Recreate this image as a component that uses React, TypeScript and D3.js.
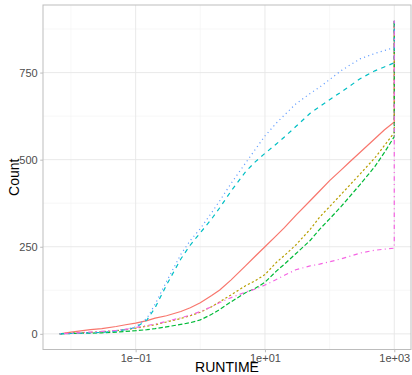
import React, { useEffect, useRef } from 'react';
import * as d3 from 'd3';

// runtime grid (seconds) shared by every series
const runtimes = [
  0.0067, 0.01, 0.02, 0.03, 0.05, 0.07, 0.1, 0.15, 0.2, 0.3, 0.5, 0.7, 1, 1.5, 2, 3, 5, 7, 10,
  15, 20, 30, 50, 70, 100, 150, 200, 300, 500, 700, 1000,
];

// cumulative solved counts at each runtime
const countsA = [
  0, 5, 12, 15, 21, 26, 31, 38, 45, 52, 64, 75, 89, 110, 126, 155, 195, 222, 250, 282, 305, 340,
  382, 410, 440, 470, 492, 522, 560, 585, 608,
];
const countsB = [
  0, 2, 4, 6, 9, 12, 16, 22, 26, 34, 44, 52, 62, 78, 92, 112, 138, 152, 170, 205, 225, 255, 300,
  335, 365, 400, 425, 460, 505, 540, 578,
];
const countsC = [
  0, 1, 2, 3, 5, 7, 9, 12, 15, 20, 27, 32, 40, 56, 70, 92, 118, 130, 148, 180, 200, 230, 268,
  300, 330, 365, 392, 430, 480, 520, 566,
];
const countsD = [
  0, 1, 3, 4, 8, 12, 18, 40, 75, 140, 215, 255, 290, 330, 362, 410, 465, 493, 518, 545, 565, 595,
  633, 652, 672, 694, 710, 733, 755, 766, 778,
];
const countsE = [
  0, 1, 3, 5, 9, 13, 20, 45, 85, 150, 228, 268, 302, 348, 382, 432, 490, 528, 568, 605, 628, 660,
  690, 708, 730, 755, 770, 790, 805, 813, 822,
];
const countsF = [
  0, 2, 5, 7, 10, 13, 18, 24, 28, 36, 46, 54, 64, 78, 90, 104, 120, 128, 140, 156, 168, 184, 195,
  200, 207, 215, 222, 232, 240, 243, 246,
];

// every instance counts at the timeout
const total = 899;

const seriesNames = ['A', 'B', 'C', 'D', 'E', 'F'];
const seriesCounts = [countsA, countsB, countsC, countsD, countsE, countsF];
const colors = ['#F8766D', '#B79F00', '#00BA38', '#00BFC4', '#619CFF', '#F564E3'];
const dashes = ['', '2.2,2.2', '4.4,2.2', '4.4,4.4', '1.1,3.3', '1.1,3.3,4.4,3.3'];

const yTicks = [0, 250, 500, 750];
const yMinor = [125, 375, 625, 875];
const xTicks = [1e-1, 1e1, 1e3];
const xMinor = [1e-2, 1e0, 1e2];

export default function App() {
  const svgRef = useRef<SVGSVGElement>(null);

  useEffect(() => {
    const width = 412;
    const height = 375;
    const margin = { top: 5, right: 1, bottom: 25.5, left: 43 };
    const pw = width - margin.left - margin.right;
    const ph = height - margin.top - margin.bottom;

    const svg = d3.select(svgRef.current).attr('width', width).attr('height', height);
    svg.selectAll('*').remove();

    const lx0 = Math.log10(d3.min(runtimes)!);
    const lx1 = Math.log10(d3.max(runtimes)!);
    const ex = (lx1 - lx0) * 0.05;
    const x = d3
      .scaleLog()
      .domain([Math.pow(10, lx0 - ex), Math.pow(10, lx1 + ex)])
      .range([0, pw]);

    const ey = total * 0.05;
    const y = d3.scaleLinear().domain([-ey, total + ey]).range([ph, 0]);

    const g = svg.append('g').attr('transform', `translate(${margin.left},${margin.top})`);

    // grid
    const hGrid = (vals: number[], col: string, w: number) =>
      g.append('g')
        .selectAll('line')
        .data(vals)
        .enter()
        .append('line')
        .attr('x1', 0)
        .attr('x2', pw)
        .attr('y1', (d) => y(d))
        .attr('y2', (d) => y(d))
        .attr('stroke', col)
        .attr('stroke-width', w);
    const vGrid = (vals: number[], col: string, w: number) =>
      g.append('g')
        .selectAll('line')
        .data(vals)
        .enter()
        .append('line')
        .attr('x1', (d) => x(d))
        .attr('x2', (d) => x(d))
        .attr('y1', 0)
        .attr('y2', ph)
        .attr('stroke', col)
        .attr('stroke-width', w);
    hGrid(yMinor, '#f2f2f2', 0.6);
    vGrid(xMinor, '#f2f2f2', 0.6);
    hGrid(yTicks, '#e6e6e6', 0.9);
    vGrid(xTicks, '#e6e6e6', 0.9);

    // lines, each ends with the jump to the total at the timeout
    const line = d3
      .line<[number, number]>()
      .x((d) => x(d[0]))
      .y((d) => y(d[1]));

    seriesNames.forEach((name, i) => {
      const pts: [number, number][] = runtimes.map((r, j) => [r, seriesCounts[i][j]]);
      pts.push([runtimes[runtimes.length - 1], total]);
      g.append('path')
        .datum(pts)
        .attr('class', `series-${name}`)
        .attr('fill', 'none')
        .attr('stroke', colors[i])
        .attr('stroke-width', 1.2)
        .attr('stroke-dasharray', dashes[i] || null)
        .attr('d', line);
    });

    // panel border
    g.append('rect')
      .attr('width', pw)
      .attr('height', ph)
      .attr('fill', 'none')
      .attr('stroke', '#bdbdbd')
      .attr('stroke-width', 1);

    // axes
    const font = "'Liberation Sans', Arial, sans-serif";
    const xAxis = g
      .append('g')
      .attr('transform', `translate(0,${ph})`)
      .call(
        d3
          .axisBottom(x)
          .tickValues(xTicks)
          .tickSize(2.8)
          .tickPadding(1.5)
          .tickFormat((d) => {
            const e = Math.round(Math.log10(+d));
            return `1e${e < 0 ? '\u2212' : '+'}${String(Math.abs(e)).padStart(2, '0')}`;
          })
      );
    const yAxis = g
      .append('g')
      .call(d3.axisLeft(y).tickValues(yTicks).tickSize(2.8).tickPadding(2.5));

    [xAxis, yAxis].forEach((a) => {
      a.select('.domain').remove();
      a.selectAll('line').attr('stroke', '#bdbdbd');
      a.selectAll('text')
        .attr('fill', '#4d4d4d')
        .style('font-family', font)
        .style('font-size', '11px');
    });

    svg
      .append('text')
      .attr('x', margin.left + pw / 2)
      .attr('y', 372)
      .attr('text-anchor', 'middle')
      .style('font-family', font)
      .style('font-size', '14px')
      .attr('fill', '#000')
      .text('RUNTIME');

    svg
      .append('text')
      .attr('transform', `translate(19,${margin.top + ph / 2}) rotate(-90)`)
      .attr('text-anchor', 'middle')
      .style('font-family', font)
      .style('font-size', '14px')
      .attr('fill', '#000')
      .text('Count');
  }, []);

  return (
    <>
      <style>{'body{margin:0}'}</style>
      <svg ref={svgRef}></svg>
    </>
  );
}
